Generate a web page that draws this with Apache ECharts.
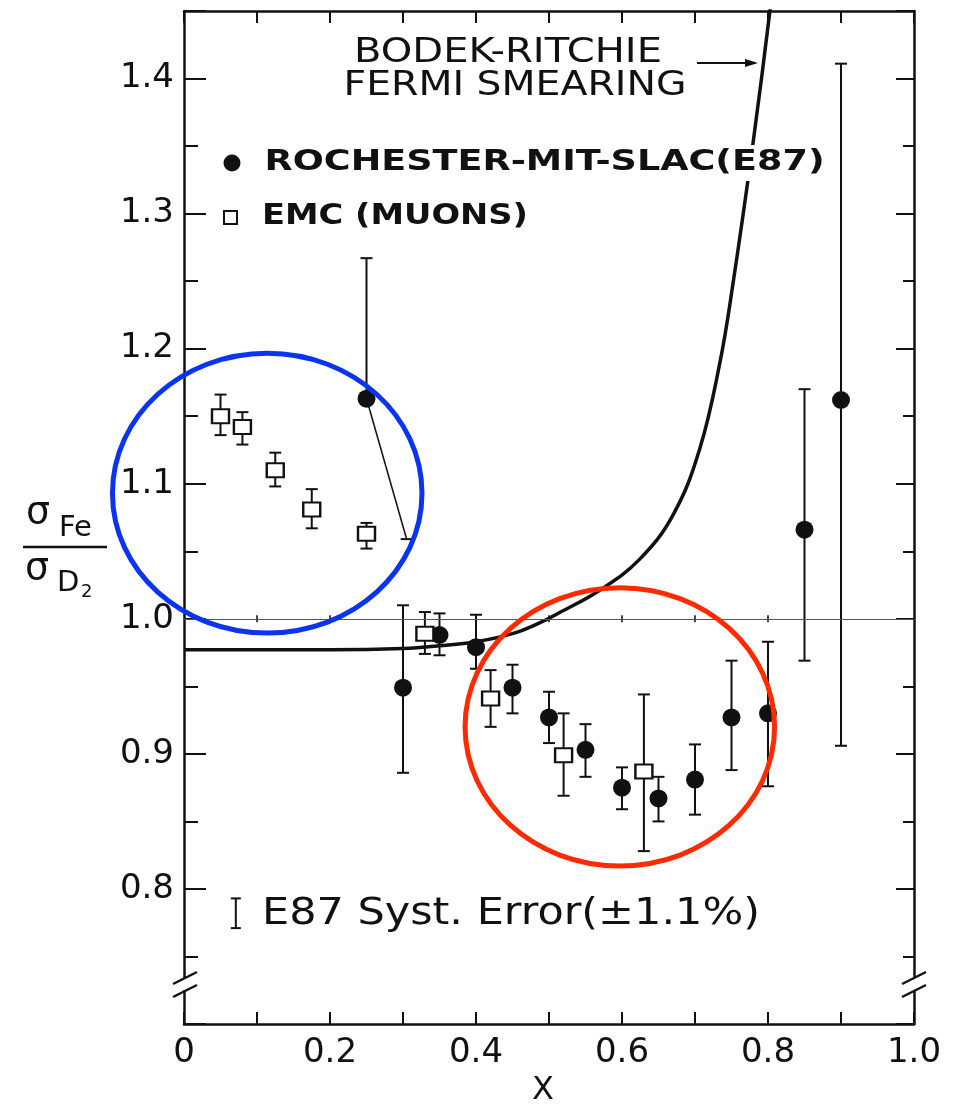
<!DOCTYPE html>
<html>
<head>
<meta charset="utf-8">
<script src="https://cdn.jsdelivr.net/npm/echarts@6/dist/echarts.min.js"></script>
<style>
  html, body { margin: 0; padding: 0; background: #fff; }
  #chart { width: 956px; height: 1106px; }
</style>
</head>
<body>
<div id="chart"></div>
<script>
// ---- Fe / D2 structure-function ratio versus x ----

// Rochester-MIT-SLAC (E87), filled circles
const e87X  = [0.25, 0.30, 0.35, 0.40, 0.45, 0.50, 0.55, 0.60, 0.65, 0.70, 0.75, 0.80, 0.85, 0.90];
const e87Y  = [1.163, 0.949, 0.988, 0.979, 0.949, 0.927, 0.903, 0.875, 0.867, 0.881, 0.927, 0.930, 1.066, 1.162];
const e87Hi = [1.267, 1.010, 1.004, 1.003, 0.966, 0.946, 0.922, 0.890, 0.883, 0.907, 0.969, 0.983, 1.170, 1.411];
const e87Lo = [1.059, 0.886, 0.973, 0.963, 0.930, 0.908, 0.883, 0.859, 0.850, 0.855, 0.888, 0.876, 0.969, 0.906];
// lower bar of the x = 0.25 point is drawn slanting away from the EMC square
const e87LoEndX = [0.305, null, null, null, null, null, null, null, null, null, null, null, null, null];

// EMC (muons), open squares
const emcX  = [0.05, 0.08, 0.125, 0.175, 0.25, 0.33, 0.42, 0.52, 0.63];
const emcY  = [1.150, 1.142, 1.110, 1.081, 1.063, 0.989, 0.941, 0.899, 0.887];
const emcHi = [1.166, 1.153, 1.123, 1.096, 1.071, 1.005, 0.962, 0.930, 0.944];
const emcLo = [1.136, 1.129, 1.098, 1.067, 1.052, 0.974, 0.920, 0.869, 0.828];

// Bodek-Ritchie Fermi smearing curve
const smearX = [0, 0.1, 0.2, 0.3, 0.35, 0.4, 0.45, 0.487, 0.514, 0.569, 0.624, 0.67, 0.706, 0.7335, 0.752, 0.7797, 0.8026, 0.81];
const smearY = [0.977, 0.977, 0.977, 0.978, 0.980, 0.983, 0.989, 0.997, 1.0045, 1.021, 1.044, 1.077, 1.125, 1.188, 1.248, 1.353, 1.450, 1.485];

// E87 systematic error (±1.1%) sample bar
const systX = 0.071, systY = 0.782, systErr = 0.011;

// small marks along the ratio = 1 line
const refTickX = [0.1, 0.2, 0.3, 0.4, 0.5, 0.6, 0.7, 0.8, 0.9];

// highlighted regions: centre x, centre y, half-width, half-height (data units)
const ringCx = [0.114, 0.597];
const ringCy = [1.093, 0.920];
const ringRx = [0.212, 0.212];
const ringRy = [0.1036, 0.103];
const ringColors = ['#0a34f2', '#ff2a00'];

// tick labels
const xTickValues = [0, 0.2, 0.4, 0.6, 0.8, 1.0];
const xTickLabels = ['0', '0.2', '0.4', '0.6', '0.8', '1.0'];
const yTickValues = [0.8, 0.9, 1.0, 1.1, 1.2, 1.3, 1.4];
const yTickLabels = ['0.8', '0.9', '1.0', '1.1', '1.2', '1.3', '1.4'];

// ---------------------------------------------------------------
const INK = '#111';
const FONT = '"DejaVu Sans", "Liberation Sans", sans-serif';

function labelFor(values, labels) {
  return function (v) {
    const i = values.findIndex(t => Math.abs(t - v) < 1e-6);
    return i < 0 ? '' : labels[i];
  };
}

const measureCtx = document.createElement('canvas').getContext('2d');
function fittedText(text, font, x, y, width, align, extraStyle) {
  measureCtx.font = font;
  const w = measureCtx.measureText(text).width;
  return {
    type: 'text', x: x, y: y, scaleX: width / w, z: 100,
    style: Object.assign({ text: text, font: font, fill: INK, align: align, verticalAlign: 'middle' }, extraStyle || {})
  };
}

function errorBars(capHalf, width) {
  return function (params, api) {
    const x = api.value(0), y = api.value(1), lo = api.value(2), hi = api.value(3), endX = api.value(4);
    const pTop = api.coord([x, hi]);
    const pMid = api.coord([x, y]);
    const pBot = api.coord([endX, lo]);
    const style = { stroke: INK, lineWidth: width };
    const kids = [
      { type: 'line', shape: { x1: pTop[0] - capHalf, y1: pTop[1], x2: pTop[0] + capHalf, y2: pTop[1] }, style: style },
      { type: 'line', shape: { x1: pBot[0] - capHalf, y1: pBot[1], x2: pBot[0] + capHalf, y2: pBot[1] }, style: style }
    ];
    if (Math.abs(endX - x) < 1e-9) {
      kids.push({ type: 'line', shape: { x1: pTop[0], y1: pTop[1], x2: pBot[0], y2: pBot[1] }, style: style });
    } else {
      kids.push({ type: 'line', shape: { x1: pTop[0], y1: pTop[1], x2: pMid[0], y2: pMid[1] }, style: style });
      kids.push({ type: 'line', shape: { x1: pMid[0], y1: pMid[1], x2: pBot[0], y2: pBot[1] }, style: { stroke: INK, lineWidth: 1.6 } });
    }
    return { type: 'group', children: kids };
  };
}

const e87Bars = e87X.map((x, i) => [x, e87Y[i], e87Lo[i], e87Hi[i], e87LoEndX[i] == null ? x : e87LoEndX[i]]);
const emcBars = emcX.map((x, i) => [x, emcY[i], emcLo[i], emcHi[i], x]);
const systBar = [[systX, systY, systY - systErr, systY + systErr, systX]];

const axisLine = { show: true, onZero: false, lineStyle: { color: INK, width: 2.5 } };

const chart = echarts.init(document.getElementById('chart'), null, { renderer: 'canvas' });

const option = {
  animation: false,
  backgroundColor: '#fff',
  grid: { left: 184, right: 42, top: 11, bottom: 82, containLabel: false, outerBoundsMode: 'none' },
  xAxis: [
    {
      type: 'value', min: 0, max: 1, interval: 0.1, position: 'bottom',
      axisLine: axisLine,
      axisTick: { show: true, inside: true, length: 12, lineStyle: { color: INK, width: 2 } },
      axisLabel: { formatter: labelFor(xTickValues, xTickLabels), fontSize: 34, fontFamily: FONT, color: INK, margin: 12 },
      splitLine: { show: false },
      name: 'X', nameLocation: 'middle', nameGap: 46,
      nameTextStyle: { fontSize: 32, fontFamily: FONT, color: INK, padding: [0, 12, 0, 0] }
    },
    {
      type: 'value', min: 0, max: 1, interval: 0.1, position: 'top',
      axisLine: axisLine,
      axisTick: { show: true, inside: true, length: 12, lineStyle: { color: INK, width: 2 } },
      axisLabel: { show: false },
      splitLine: { show: false }
    }
  ],
  yAxis: [
    {
      type: 'value', min: 0.7, max: 1.45, interval: 0.1, position: 'left',
      axisLine: axisLine,
      axisTick: { show: true, inside: true, length: 22, lineStyle: { color: INK, width: 2 } },
      minorTick: { show: true, splitNumber: 2, length: 14, lineStyle: { color: INK, width: 2 } },
      axisLabel: { formatter: labelFor(yTickValues, yTickLabels), fontSize: 34, fontFamily: FONT, color: INK, margin: 10 },
      splitLine: { show: false }, minorSplitLine: { show: false }
    },
    {
      type: 'value', min: 0.7, max: 1.45, interval: 0.1, position: 'right',
      axisLine: axisLine,
      axisTick: { show: true, inside: true, length: 18, lineStyle: { color: INK, width: 2 } },
      minorTick: { show: true, splitNumber: 2, length: 11, lineStyle: { color: INK, width: 2 } },
      axisLabel: { show: false },
      splitLine: { show: false }, minorSplitLine: { show: false }
    }
  ],
  series: [
    {
      name: 'Fermi smearing', type: 'line', z: 2,
      data: smearX.map((x, i) => [x, smearY[i]]),
      showSymbol: false, smooth: 0.4, clip: true,
      lineStyle: { color: INK, width: 3.5, opacity: 1 },
      markLine: {
        silent: true, symbol: 'none', label: { show: false },
        lineStyle: { color: '#555', width: 1.2, type: 'solid', opacity: 1 },
        data: [{ yAxis: 1 }]
      }
    },
    {
      name: 'ref ticks', type: 'scatter', z: 1, silent: true,
      data: refTickX.map(x => [x, 1]),
      symbol: 'rect', symbolSize: [2, 7], itemStyle: { color: '#444', opacity: 1 }
    },
    {
      name: 'E87 errors', type: 'custom', z: 3, clip: false,
      renderItem: errorBars(6, 2), data: e87Bars
    },
    {
      name: 'EMC errors', type: 'custom', z: 3, clip: false,
      renderItem: errorBars(6, 2), data: emcBars
    },
    {
      name: 'syst', type: 'custom', z: 3, clip: false,
      renderItem: errorBars(5, 2), data: systBar
    },
    {
      name: 'ROCHESTER-MIT-SLAC(E87)', type: 'scatter', z: 4,
      data: e87X.map((x, i) => [x, e87Y[i]]),
      symbol: 'circle', symbolSize: 18, itemStyle: { color: INK, opacity: 1 }
    },
    {
      name: 'EMC (MUONS)', type: 'scatter', z: 4,
      data: emcX.map((x, i) => [x, emcY[i]]),
      symbol: 'rect', symbolSize: [17, 14],
      itemStyle: { color: '#fff', borderColor: INK, borderWidth: 2.2, opacity: 1 }
    },
    {
      name: 'rings', type: 'custom', z: 6, clip: false, silent: true,
      data: ringCx.map((cx, i) => [cx, ringCy[i], ringRx[i], ringRy[i]]),
      renderItem: function (params, api) {
        const c = api.coord([api.value(0), api.value(1)]);
        const s = api.size([api.value(2), api.value(3)]);
        return {
          type: 'ellipse',
          shape: { cx: c[0], cy: c[1], rx: s[0], ry: s[1] },
          style: { fill: 'none', stroke: ringColors[params.dataIndex], lineWidth: 5 }
        };
      }
    }
  ],
  graphic: [
    // legend
    { type: 'circle', z: 100, shape: { cx: 232, cy: 163, r: 8.5 }, style: { fill: INK } },
    { type: 'rect', z: 100, shape: { x: 224, y: 211, width: 13, height: 13 }, style: { fill: '#fff', stroke: INK, lineWidth: 2 } },
    fittedText('ROCHESTER-MIT-SLAC(E87)', 'bold 28px "DejaVu Sans"', 262, 163, 560, 'left', { backgroundColor: '#fff', padding: [4, 2, 4, 2] }),
    fittedText('EMC (MUONS)', 'bold 28px "DejaVu Sans"', 262, 217, 266, 'left'),
    // curve annotation
    fittedText('BODEK-RITCHIE', '33px "DejaVu Sans"', 508, 53, 308, 'center'),
    fittedText('FERMI SMEARING', '33px "DejaVu Sans"', 515, 86, 343, 'center'),
    { type: 'line', z: 100, shape: { x1: 697, y1: 63, x2: 748, y2: 63 }, style: { stroke: INK, lineWidth: 2 } },
    { type: 'polygon', z: 100, shape: { points: [[758, 63], [745, 59], [745, 67]] }, style: { fill: INK } },
    // systematic error note
    fittedText('E87 Syst. Error(\u00b11.1%)', '38px "DejaVu Sans"', 262, 914, 498, 'left'),
    // y-axis title: sigma_Fe / sigma_D2
    { type: 'text', z: 100, x: 26, y: 513, style: { text: '\u03c3', font: '38px "DejaVu Sans"', fill: INK, align: 'left', verticalAlign: 'middle' } },
    { type: 'text', z: 100, x: 59, y: 528, style: { text: 'Fe', font: '29px "DejaVu Sans"', fill: INK, align: 'left', verticalAlign: 'middle' } },
    { type: 'line', z: 100, shape: { x1: 23, y1: 547, x2: 107, y2: 547 }, style: { stroke: INK, lineWidth: 2.5 } },
    { type: 'text', z: 100, x: 25, y: 569, style: { text: '\u03c3', font: '38px "DejaVu Sans"', fill: INK, align: 'left', verticalAlign: 'middle' } },
    { type: 'text', z: 100, x: 57, y: 583, style: { text: 'D', font: '29px "DejaVu Sans"', fill: INK, align: 'left', verticalAlign: 'middle' } },
    { type: 'text', z: 100, x: 81, y: 592, style: { text: '2', font: '18px "DejaVu Sans"', fill: INK, align: 'left', verticalAlign: 'middle' } },
    // axis break marks, left and right
    { type: 'rect', z: 100, shape: { x: 178, y: 978, width: 13, height: 12 }, style: { fill: '#fff' } },
    { type: 'line', z: 101, shape: { x1: 173, y1: 984, x2: 197, y2: 972 }, style: { stroke: INK, lineWidth: 2.5 } },
    { type: 'line', z: 101, shape: { x1: 173, y1: 997, x2: 197, y2: 985 }, style: { stroke: INK, lineWidth: 2.5 } },
    { type: 'rect', z: 100, shape: { x: 908, y: 978, width: 13, height: 12 }, style: { fill: '#fff' } },
    { type: 'line', z: 101, shape: { x1: 902, y1: 984, x2: 926, y2: 972 }, style: { stroke: INK, lineWidth: 2.5 } },
    { type: 'line', z: 101, shape: { x1: 902, y1: 997, x2: 926, y2: 985 }, style: { stroke: INK, lineWidth: 2.5 } }
  ]
};

chart.setOption(option);
</script>
</body>
</html>
